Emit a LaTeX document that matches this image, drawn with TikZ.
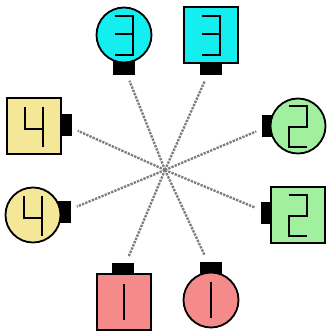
\documentclass[tikz,border=0pt]{standalone}
\usepackage{amsmath}
\usepackage{tikz}

\definecolor{cyanbody}{RGB}{20,238,240}
\definecolor{greenbody}{RGB}{160,240,160}
\definecolor{redbody}{RGB}{244,138,138}
\definecolor{yellowbody}{RGB}{244,232,152}
\definecolor{linkgray}{RGB}{125,125,125}

% seven segment digits, drawn round the centre of a node
\newcommand{\segone}[1]{\draw[seg] ([shift={(0,-18)}]#1.center) -- ([shift={(0,18)}]#1.center);}
\newcommand{\segtwo}[1]{\draw[seg] ([shift={(-9,-20)}]#1.center) -- ([shift={(9,-20)}]#1.center)
  -- ([shift={(9,1)}]#1.center) -- ([shift={(-9,1)}]#1.center) -- ([shift={(-9,21)}]#1.center)
  -- ([shift={(9,21)}]#1.center);}
\newcommand{\segthree}[1]{\draw[seg] ([shift={(-9,-19)}]#1.center) -- ([shift={(9,-19)}]#1.center)
  -- ([shift={(9,20)}]#1.center) -- ([shift={(-9,20)}]#1.center);
  \draw[seg] ([shift={(-9,-1)}]#1.center) -- ([shift={(9,-1)}]#1.center);}
\newcommand{\segfour}[1]{\draw[seg] ([shift={(-9,-19)}]#1.center) -- ([shift={(-9,3)}]#1.center)
  -- ([shift={(9,3)}]#1.center);
  \draw[seg] ([shift={(9,-19)}]#1.center) -- ([shift={(9,21)}]#1.center);}

\begin{document}
\begin{tikzpicture}[x=0.03cm, y=-0.03cm,
    body/.style={draw=black, line width=0.055cm, inner sep=0pt, outer sep=0pt},
    round body/.style={body, circle, minimum size=1.65cm},
    square body/.style={body, rectangle, minimum width=1.64cm, minimum height=1.66cm},
    tab/.style={fill=black, inner sep=0pt, outer sep=0pt},
    vtab/.style={tab, minimum width=0.66cm, minimum height=0.45cm},
    htab/.style={tab, minimum width=0.4cm, minimum height=0.68cm},
    seg/.style={line width=0.06cm, line join=miter},
    link/.style={draw=linkgray, line width=0.07cm, dash pattern=on 0.07cm off 0.035cm, shorten >=0.2cm}]
  \useasboundingbox (0,0) rectangle (327,331);

  \coordinate (hub) at (165,170);

  % connector tabs
  \node[vtab] (c3t) at (124,67) {};
  \node[vtab] (s3t) at (211,67) {};
  \node[htab] (c2t) at (269,126) {};
  \node[htab] (s2t) at (268,213) {};
  \node[vtab] (c1t) at (211,269) {};
  \node[vtab] (s1t) at (123,270) {};
  \node[htab] (c4t) at (64,212) {};
  \node[htab] (s4t) at (65,125) {};

  % bodies
  \node[round body, fill=cyanbody] (c3) at (124,35) {};
  \node[square body, fill=cyanbody] (s3) at (211,35) {};
  \node[round body, fill=greenbody] (c2) at (298,126) {};
  \node[square body, fill=greenbody] (s2) at (298,215) {};
  \node[round body, fill=redbody] (c1) at (211,300) {};
  \node[square body, fill=redbody] (s1) at (124,302) {};
  \node[round body, fill=yellowbody] (c4) at (33,215) {};
  \node[square body, fill=yellowbody] (s4) at (34,126) {};

  \segthree{c3} \segthree{s3}
  \segtwo{c2} \segtwo{s2}
  \segone{c1} \segone{s1}
  \segfour{c4} \segfour{s4}

  \foreach \t in {c3t,s3t,c2t,s2t,c1t,s1t,c4t,s4t}
    \draw[link] (hub) -- (\t);
\end{tikzpicture}
\end{document}
